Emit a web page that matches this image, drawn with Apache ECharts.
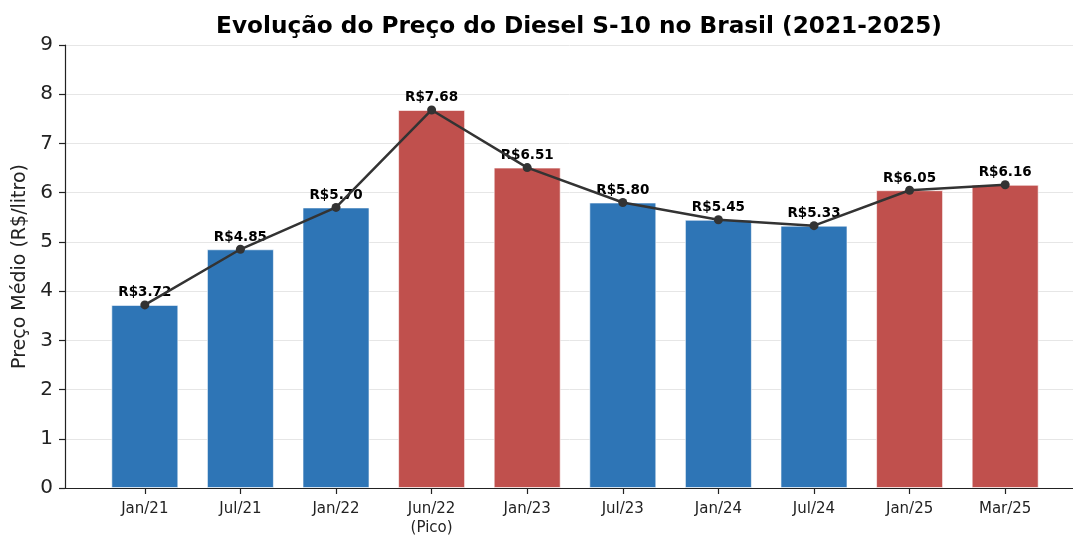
<!DOCTYPE html>
<html>
<head>
<meta charset="utf-8">
<title>Diesel S-10</title>
<script src="https://cdn.jsdelivr.net/npm/echarts@6/dist/echarts.min.js"></script>
<style>
  html, body { margin: 0; padding: 0; background: #fff; }
  #chart { width: 1073px; height: 536px; }
</style>
</head>
<body>
<div id="chart"></div>
<script>
// dados
const periodos = ["Jan/21", "Jul/21", "Jan/22", "Jun/22\n(Pico)", "Jan/23", "Jul/23", "Jan/24", "Jul/24", "Jan/25", "Mar/25"];
const precos = [3.72, 4.85, 5.70, 7.68, 6.51, 5.80, 5.45, 5.33, 6.05, 6.16];
// true = barra vermelha (alta)
const destaque = [false, false, false, true, true, false, false, false, true, true];

const AZUL = "#2e75b6";
const VERMELHO = "#c0504d";
const FONTE = "DejaVu Sans";

const posicoes = periodos.map((p, i) => i);

const chart = echarts.init(document.getElementById("chart"));

chart.setOption({
  animation: false,
  backgroundColor: "#fff",
  textStyle: { fontFamily: FONTE },
  title: {
    text: "Evolução do Preço do Diesel S-10 no Brasil (2021-2025)",
    left: 574,
    textAlign: "center",
    top: 10,
    textStyle: { fontFamily: FONTE, fontSize: 23.2, fontWeight: "bold", color: "#000" },
  },
  grid: { left: 65, right: -12, top: 45, bottom: 48, outerBoundsMode: "none" },
  xAxis: {
    type: "value",
    min: -0.835,
    max: 9.835,
    splitLine: { show: false },
    axisLine: { onZero: false, lineStyle: { color: "#222", width: 1.2 } },
    axisTick: { show: true, length: 6, customValues: posicoes, lineStyle: { color: "#222", width: 1.2 } },
    axisLabel: {
      customValues: posicoes,
      formatter: (v) => periodos[Math.round(v)],
      fontFamily: FONTE,
      fontSize: 15,
      lineHeight: 19,
      color: "#222",
      margin: 12,
    },
  },
  yAxis: {
    type: "value",
    min: 0,
    max: 9,
    interval: 1,
    name: "Preço Médio (R$/litro)",
    nameLocation: "middle",
    nameGap: 35,
    nameTextStyle: { fontFamily: FONTE, fontSize: 19, color: "#222" },
    axisLine: { show: true, onZero: false, lineStyle: { color: "#222", width: 1.2 } },
    axisTick: { show: true, length: 6, lineStyle: { color: "#222", width: 1.2 } },
    axisLabel: { fontFamily: FONTE, fontSize: 20, color: "#222", margin: 12 },
    splitLine: { show: true, lineStyle: { color: "#e6e6e6", width: 1 } },
  },
  series: [
    {
      type: "bar",
      barWidth: 67,
      data: precos.map((v, i) => ({
        value: [i, v],
        itemStyle: {
          color: destaque[i] ? VERMELHO : AZUL,
          borderColor: "rgba(255,255,255,0.6)",
          borderWidth: 1,
        },
      })),
      label: {
        show: true,
        position: "top",
        distance: 5,
        formatter: (p) => "R$" + p.value[1].toFixed(2),
        fontFamily: FONTE,
        fontSize: 13.5,
        fontWeight: "bold",
        color: "#000",
      },
      z: 1,
    },
    {
      type: "line",
      data: precos.map((v, i) => [i, v]),
      symbol: "circle",
      symbolSize: 9,
      lineStyle: { color: "#333", width: 2.5 },
      itemStyle: { color: "#333" },
      z: 3,
    },
  ],
});
</script>
</body>
</html>
